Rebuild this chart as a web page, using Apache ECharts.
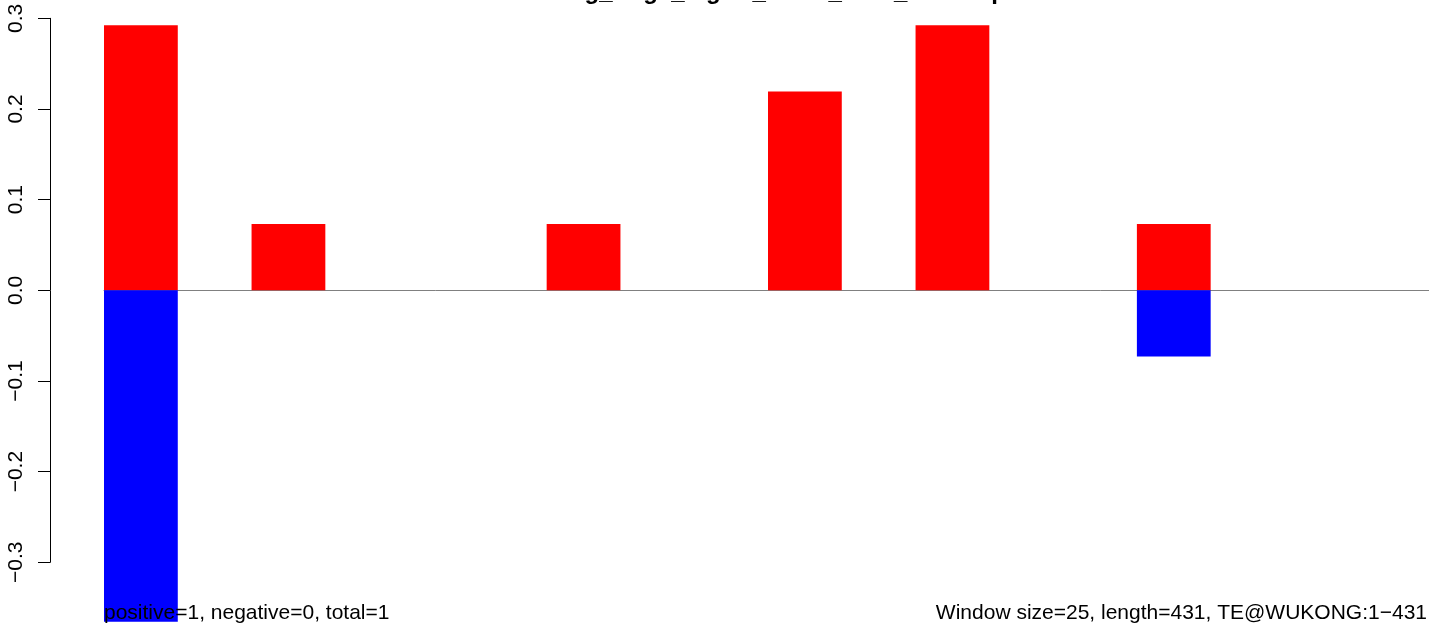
<!DOCTYPE html>
<html>
<head>
<meta charset="utf-8">
<script src="https://cdn.jsdelivr.net/npm/echarts@6/dist/echarts.min.js"></script>
<style>
html,body{margin:0;padding:0;background:#fff;overflow:hidden;width:1429px;height:627px;}
#chart{width:1432px;height:627px;}
</style>
</head>
<body>
<div id="chart"></div>
<script>
// 18 windows (window size 25, length 431)
const categories = ['1','2','3','4','5','6','7','8','9','10','11','12','13','14','15','16','17','18'];
const positiveValues = [0.2923, 0, 0.0731, 0, 0, 0, 0.0731, 0, 0, 0.2192, 0, 0.2923, 0, 0, 0.0731, 0, 0, 0];
const negativeValues = [-0.3654, 0, 0, 0, 0, 0, 0, 0, 0, 0, 0, 0, 0, 0, -0.0731, 0, 0, 0];
const yTicks = [-0.3, 0.3, 0.1]; // min, max, interval
const titleText = 'Wukong_rings_logFC_mean_ratio_heatmap';
const leftNote = 'positive=1, negative=0, total=1';
const rightNote = 'Window size=25, length=431, TE@WUKONG:1\u2212431';

const chart = echarts.init(document.getElementById('chart'), null, {renderer: 'canvas'});
const FONT = 'Liberation Sans, Arial, Helvetica, sans-serif';

chart.setOption({
  animation: false,
  backgroundColor: '#ffffff',
  grid: [
    {left: 104, right: 0, top: 18.3, bottom: 1.2, containLabel: false},
    {left: 50, right: 3, top: 18.3, bottom: 64.7, containLabel: false}
  ],
  xAxis: [
    {
      type: 'category', gridIndex: 0, data: categories,
      axisLine: {show: true, onZero: true, lineStyle: {color: '#808080', width: 1}},
      axisTick: {show: false}, axisLabel: {show: false}, splitLine: {show: false}
    },
    {
      type: 'category', gridIndex: 1, data: categories, show: false
    }
  ],
  yAxis: [
    {
      type: 'value', gridIndex: 0, min: -0.37, max: 0.3, show: false,
      splitLine: {show: false}
    },
    {
      type: 'value', gridIndex: 1, min: yTicks[0], max: yTicks[1], interval: yTicks[2],
      position: 'left',
      axisLine: {show: true, lineStyle: {color: '#000', width: 1}},
      axisTick: {show: true, length: 12, inside: false, lineStyle: {color: '#000', width: 1}},
      splitLine: {show: false},
      axisLabel: {
        show: true, rotate: 90, margin: 23, color: '#000',
        fontFamily: FONT, fontSize: 21,
        formatter: v => v.toFixed(1).replace('-', '\u2212')
      }
    }
  ],
  series: [
    {
      type: 'bar', xAxisIndex: 0, yAxisIndex: 0, data: positiveValues,
      barCategoryGap: '0%', barGap: '-100%',
      itemStyle: {color: '#ff0000'}, silent: true
    },
    {
      type: 'bar', xAxisIndex: 0, yAxisIndex: 0, data: negativeValues,
      barCategoryGap: '0%', barGap: '-100%',
      itemStyle: {color: '#0000ff'}, silent: true
    }
  ],
  graphic: [
    {
      type: 'text', x: 505, y: -8, silent: true,
      style: {text: titleText, font: 'bold 24px ' + FONT, fill: '#000', textAlign: 'left', textVerticalAlign: 'middle'}
    },
    {
      type: 'text', x: 104, y: 613, silent: true, z: 100,
      style: {text: leftNote, font: '21px ' + FONT, fill: '#000', textAlign: 'left', textVerticalAlign: 'middle'}
    },
    {
      type: 'text', x: 1427, y: 613, silent: true, z: 100,
      style: {text: rightNote, font: '21px ' + FONT, fill: '#000', textAlign: 'right', textVerticalAlign: 'middle'}
    }
  ]
});
</script>
</body>
</html>
